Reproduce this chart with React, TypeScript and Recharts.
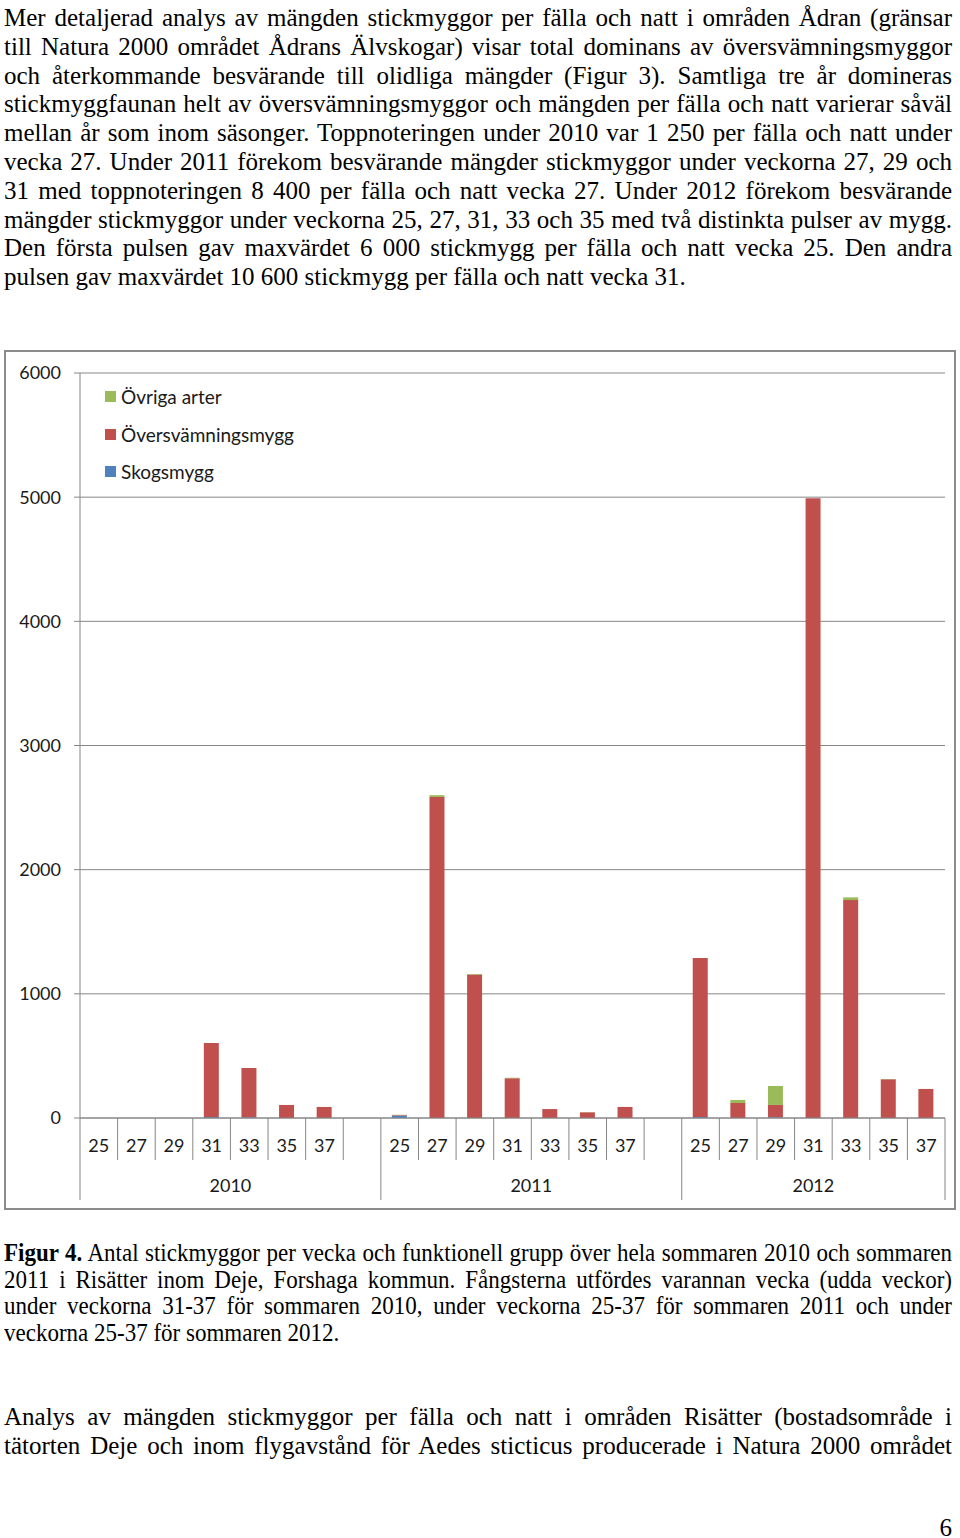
import { BarChart, Bar, XAxis, YAxis, CartesianGrid, Legend } from "recharts";

const years = ["2010", "2011", "2012"];
const weeks = ["25", "27", "29", "31", "33", "35", "37"];

// per fälla och natt, 7 weeks per year: 2010 | 2011 | 2012
const skogsmygg = [0, 0, 0, 8, 6, 0, 0, 20, 0, 0, 0, 0, 0, 0, 8, 0, 6, 0, 0, 0, 0];
const oversvamningsmygg = [0, 0, 0, 596, 397, 105, 89, 4, 2585, 1155, 320, 72, 46, 89, 1280, 121, 99, 4992, 1755, 312, 234];
const ovrigaArter = [0, 0, 0, 0, 0, 0, 0, 2, 15, 5, 4, 0, 2, 0, 0, 24, 153, 0, 22, 2, 0];
const yTicks = [0, 1000, 2000, 3000, 4000, 5000, 6000];

const introLines = [
  "Mer detaljerad analys av mängden stickmyggor per fälla och natt i områden Ådran (gränsar",
  "till Natura 2000 området Ådrans Älvskogar) visar total dominans av översvämningsmyggor",
  "och återkommande besvärande till olidliga mängder (Figur 3). Samtliga tre år domineras",
  "stickmyggfaunan helt av översvämningsmyggor och mängden per fälla och natt varierar såväl",
  "mellan år som inom säsonger. Toppnoteringen under 2010 var 1 250 per fälla och natt under",
  "vecka 27. Under 2011 förekom besvärande mängder stickmyggor under veckorna 27, 29 och",
  "31 med toppnoteringen 8 400 per fälla och natt vecka 27. Under 2012 förekom besvärande",
  "mängder stickmyggor under veckorna 25, 27, 31, 33 och 35 med två distinkta pulser av mygg.",
  "Den första pulsen gav maxvärdet 6 000 stickmygg per fälla och natt vecka 25. Den andra",
  "pulsen gav maxvärdet 10 600 stickmygg per fälla och natt vecka 31.",
];
const captionLead = "Figur 4.";
const captionLines = [
  " Antal stickmyggor per vecka och funktionell grupp över hela sommaren 2010 och sommaren",
  "2011 i Risätter inom Deje, Forshaga kommun. Fångsterna utfördes varannan vecka (udda veckor)",
  "under veckorna 31-37 för sommaren 2010, under veckorna 25-37 för sommaren 2011 och under",
  "veckorna 25-37 för sommaren 2012.",
];
const outroLines = [
  "Analys av mängden stickmyggor per fälla och natt i områden Risätter (bostadsområde i",
  "tätorten Deje och inom flygavstånd för Aedes sticticus producerade i Natura 2000 området",
];

const series = [
  { key: "skog", name: "Skogsmygg", color: "#4F81BD" },
  { key: "over", name: "Översvämningsmygg", color: "#C0504D" },
  { key: "ovriga", name: "Övriga arter", color: "#9BBB59" },
];

type Row = { key: string; week: string; year: string; first: boolean; skog?: number; over?: number; ovriga?: number };

const rows: Row[] = [];
years.forEach((year, yi) => {
  weeks.forEach((week, wi) => {
    const i = yi * weeks.length + wi;
    rows.push({
      key: `${year}-${week}`,
      week,
      year,
      first: wi === 0,
      skog: skogsmygg[i],
      over: oversvamningsmygg[i],
      ovriga: ovrigaArter[i],
    });
  });
  // Excel leaves an empty slot between the years
  if (yi < years.length - 1) rows.push({ key: `${year}-gap`, week: "", year, first: false });
});

const SERIF = "'Liberation Serif', 'Times New Roman', serif";
const SANS = "Lato, 'Open Sans', sans-serif";
const GRID = "#868686";
const PLOT_W = 865;

function WeekTick(props: any) {
  const { x, y, index } = props;
  const step = PLOT_W / rows.length;
  const row = rows[index];
  const groupSize = rows.filter((r) => r.year === row.year).length;
  const right = x + step / 2;
  const tall = row.week === "" || index === rows.length - 1;
  return (
    <g>
      {index === 0 && <line x1={x - step / 2} y1={y} x2={x - step / 2} y2={y + 82} stroke={GRID} />}
      <line x1={right} y1={y} x2={right} y2={y + (tall ? 82 : 42)} stroke={GRID} />
      {row.week && (
        <text x={x} y={y + 34} textAnchor="middle" fontSize={18} fontFamily={SANS} fill="#1a1a1a">
          {row.week}
        </text>
      )}
      {row.first && (
        <text x={x - step / 2 + (groupSize * step) / 2} y={y + 74} textAnchor="middle" fontSize={18} fontFamily={SANS} fill="#1a1a1a">
          {row.year}
        </text>
      )}
    </g>
  );
}

function LegendBox() {
  return (
    <div style={{ fontFamily: SANS, fontSize: 19, color: "#1a1a1a" }}>
      {[...series].reverse().map((s) => (
        <div key={s.key} style={{ display: "flex", alignItems: "center", height: 37.5 }}>
          <span style={{ width: 11, height: 11, background: s.color, marginRight: 5 }} />
          {s.name}
        </div>
      ))}
    </div>
  );
}

function Lines({ lines, top, lineHeight, fontSize, scale = 1, lead }: any) {
  return (
    <div
      style={{
        position: "absolute",
        left: 4,
        top,
        width: 948 / scale,
        transform: `scaleX(${scale})`,
        transformOrigin: "left top",
        fontFamily: SERIF,
        fontSize,
        lineHeight: `${lineHeight}px`,
        color: "#000",
      }}
    >
      {lines.map((l: string, i: number) => (
        <div
          key={i}
          style={{
            whiteSpace: "nowrap",
            textAlign: "justify",
            textAlignLast: i === lines.length - 1 && lines.length > 2 ? "left" : "justify",
          }}
        >
          {i === 0 && lead ? <b>{lead}</b> : null}
          {l}
        </div>
      ))}
    </div>
  );
}

export default function App() {
  return (
    <div style={{ position: "absolute", left: 0, top: 0, width: 960, height: 1538, background: "#fff" }}>
      <Lines lines={introLines} top={4} lineHeight={28.8} fontSize={25} />

      <div
        style={{
          position: "absolute",
          left: 4,
          top: 350,
          width: 952,
          height: 860,
          border: "2px solid #8c8c8c",
          boxSizing: "border-box",
          background: "#fff",
        }}
      >
        <BarChart width={948} height={856} data={rows} margin={{ top: 21, right: 9, left: 0, bottom: 0 }} barSize={15}>
          <CartesianGrid vertical={false} stroke={GRID} />
          <XAxis
            dataKey="key"
            interval={0}
            height={90}
            tickLine={false}
            tickSize={0}
            tickMargin={0}
            axisLine={{ stroke: GRID }}
            tick={<WeekTick />}
          />
          <YAxis
            width={74}
            domain={[0, 6000]}
            ticks={yTicks}
            interval={0}
            tickSize={6}
            tickMargin={13}
            axisLine={{ stroke: GRID }}
            tickLine={{ stroke: GRID }}
            tick={{ fontSize: 18, fontFamily: SANS, fill: "#1a1a1a" }}
          />
          <Legend
            layout="horizontal"
            verticalAlign="middle"
            align="center"
            wrapperStyle={{ left: 99, top: 26, width: 260, height: 120 }}
            content={() => <LegendBox />}
          />
          {series.map((s) => (
            <Bar key={s.key} dataKey={s.key} name={s.name} stackId="a" fill={s.color} isAnimationActive={false} />
          ))}
        </BarChart>
      </div>

      <Lines lines={captionLines} lead={captionLead} top={1240} lineHeight={26.7} fontSize={25} scale={0.92} />
      <Lines lines={outroLines} top={1402} lineHeight={29} fontSize={25} />
      <div style={{ position: "absolute", right: 8, top: 1513, fontFamily: SERIF, fontSize: 25, lineHeight: "30px" }}>6</div>
    </div>
  );
}
